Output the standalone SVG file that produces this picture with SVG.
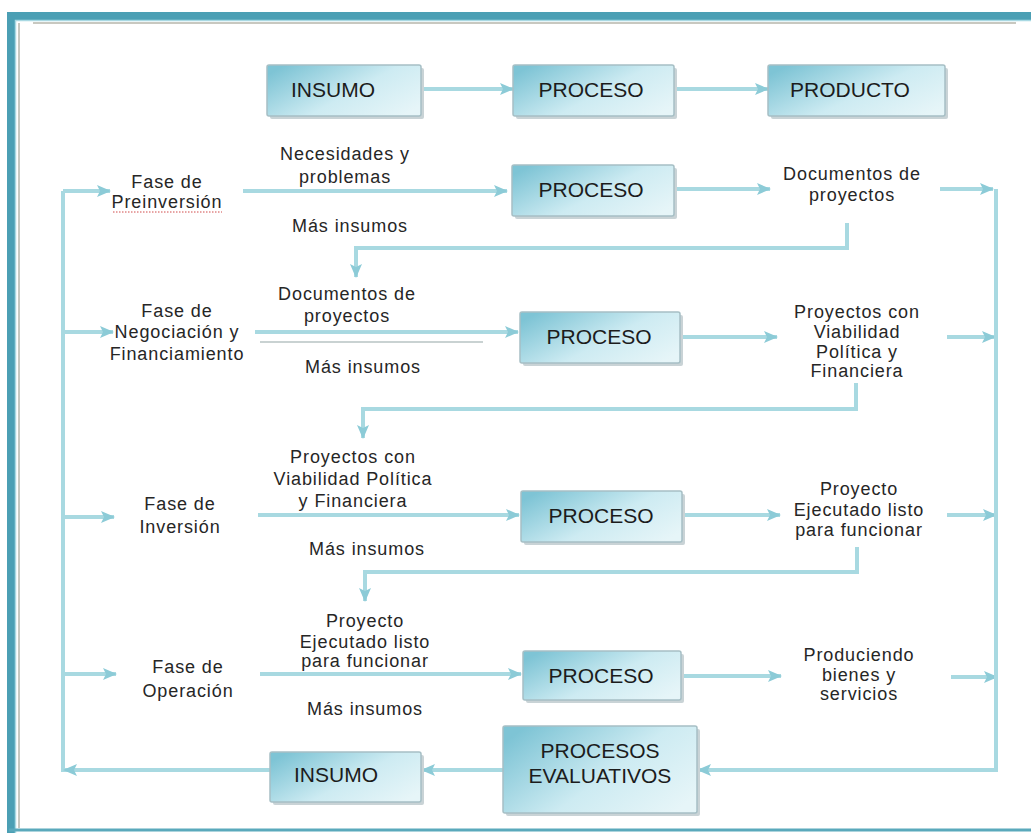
<svg xmlns="http://www.w3.org/2000/svg" width="1031" height="833" viewBox="0 0 1031 833">
<defs>
<linearGradient id="boxg" x1="0" y1="0.2" x2="1" y2="0.8">
<stop offset="0" stop-color="#7ec4d5"/>
<stop offset="0.55" stop-color="#cdebf2"/>
<stop offset="1" stop-color="#e6f5f8"/>
</linearGradient>
<marker id="ah" markerUnits="userSpaceOnUse" markerWidth="14" markerHeight="12" refX="13" refY="6" orient="auto">
<path d="M0,0 L14,6 L0,12 L3,6 z" fill="#8ccbd7"/>
</marker>
<style>
.box{fill:url(#boxg);stroke:#a6bfc5;stroke-width:1.5}
.sh{fill:#c9d3d6}
.bt{font-family:"Liberation Sans",Arial,sans-serif;font-size:21px;fill:#1c1c1c;text-anchor:middle}
.lt{font-family:"Liberation Sans",Arial,sans-serif;font-size:18px;fill:#262626;text-anchor:middle;letter-spacing:0.9px}
.c{fill:none;stroke:#a8d9e1;stroke-width:4;stroke-linejoin:round}
.ca{fill:none;stroke:#a8d9e1;stroke-width:4;marker-end:url(#ah)}
</style>
</defs>
<rect width="1031" height="833" fill="#ffffff"/>
<g id="frame">
<path d="M11.5,833 V16.5 H1040" fill="none" stroke="#4b9fb4" stroke-width="9"/>
<path d="M15.5,833 V20.5 H1040" fill="none" stroke="#a9d9e3" stroke-width="1.5"/>
<line x1="9" y1="830" x2="1031" y2="830" stroke="#5aa9bc" stroke-width="3"/>
<line x1="19" y1="23" x2="19" y2="828" stroke="#c8c8c0" stroke-width="2"/>
<line x1="33" y1="23" x2="1016" y2="23" stroke="#c8c8c0" stroke-width="2"/>
</g>
<g id="connectors">
<line class="ca" x1="421" y1="89" x2="513" y2="89"/>
<line class="ca" x1="674" y1="89" x2="768" y2="89"/>
<line class="c" x1="63" y1="191" x2="63" y2="772"/>
<line class="ca" x1="63" y1="191" x2="110" y2="191"/>
<line class="ca" x1="63" y1="332" x2="113" y2="332"/>
<line class="ca" x1="63" y1="517" x2="114" y2="517"/>
<line class="ca" x1="63" y1="674" x2="116" y2="674"/>
<line class="ca" x1="243" y1="191" x2="507" y2="191"/>
<line class="ca" x1="674" y1="189" x2="770" y2="189"/>
<line class="ca" x1="940" y1="189" x2="993" y2="189"/>
<path class="ca" d="M847,223 V248 H356 V277"/>
<line class="ca" x1="255" y1="332" x2="518" y2="332"/>
<line x1="260" y1="342" x2="483" y2="342" stroke="#c9d2d2" stroke-width="2"/>
<line class="ca" x1="680" y1="337" x2="777" y2="337"/>
<line class="ca" x1="947" y1="337" x2="995" y2="337"/>
<path class="ca" d="M856,383 V409 H363 V438"/>
<line class="ca" x1="258" y1="515" x2="519" y2="515"/>
<line class="ca" x1="682" y1="515" x2="780" y2="515"/>
<line class="ca" x1="947" y1="515" x2="996" y2="515"/>
<path class="ca" d="M857,547 V572 H365 V601"/>
<line class="ca" x1="260" y1="674" x2="521" y2="674"/>
<line class="ca" x1="681" y1="676" x2="781" y2="676"/>
<line class="ca" x1="951" y1="677" x2="997" y2="677"/>
<path class="ca" d="M996,189 V770 H698"/>
<line class="ca" x1="503" y1="770" x2="422" y2="770"/>
<line class="ca" x1="270" y1="770" x2="64" y2="770"/>
</g>
<g id="n-insumo-top">
<rect class="sh" x="270" y="68" width="154" height="51" rx="2"/>
<rect class="box" x="267" y="65" width="154" height="51" rx="2"/>
<text class="bt" x="333" y="97">INSUMO</text>
</g>
<g id="n-proceso-top">
<rect class="sh" x="516" y="68" width="161" height="51" rx="2"/>
<rect class="box" x="513" y="65" width="161" height="51" rx="2"/>
<text class="bt" x="591" y="97">PROCESO</text>
</g>
<g id="n-producto">
<rect class="sh" x="771" y="68" width="177" height="51" rx="2"/>
<rect class="box" x="768" y="65" width="177" height="51" rx="2"/>
<text class="bt" x="850" y="97">PRODUCTO</text>
</g>
<g id="n-fase-preinversion">
<text class="lt" x="167" y="188">Fase de</text>
<text class="lt" x="167" y="208">Preinversión</text>
<line x1="113" y1="212" x2="222" y2="212" stroke="#d04a4a" stroke-width="1" stroke-dasharray="1.5 1.5"/>
</g>
<g id="l-necesidades">
<text class="lt" x="345" y="160">Necesidades y</text>
<text class="lt" x="345" y="183">problemas</text>
</g>
<g id="l-mas1"><text class="lt" x="350" y="232">Más insumos</text></g>
<g id="n-proceso-1">
<rect class="sh" x="515" y="168" width="162" height="51" rx="2"/>
<rect class="box" x="512" y="165" width="162" height="51" rx="2"/>
<text class="bt" x="591" y="197">PROCESO</text>
</g>
<g id="n-documentos">
<text class="lt" x="852" y="180">Documentos de</text>
<text class="lt" x="852" y="201">proyectos</text>
</g>
<g id="n-fase-negociacion">
<text class="lt" x="177" y="317">Fase de</text>
<text class="lt" x="177" y="338">Negociación y</text>
<text class="lt" x="177" y="360">Financiamiento</text>
</g>
<g id="l-documentos2">
<text class="lt" x="347" y="300">Documentos de</text>
<text class="lt" x="347" y="322">proyectos</text>
</g>
<g id="l-mas2"><text class="lt" x="363" y="373">Más insumos</text></g>
<g id="n-proceso-2">
<rect class="sh" x="523" y="315" width="160" height="51" rx="2"/>
<rect class="box" x="520" y="312" width="160" height="51" rx="2"/>
<text class="bt" x="599" y="344">PROCESO</text>
</g>
<g id="n-viabilidad">
<text class="lt" x="857" y="318">Proyectos con</text>
<text class="lt" x="857" y="338">Viabilidad</text>
<text class="lt" x="857" y="358">Política y</text>
<text class="lt" x="857" y="377">Financiera</text>
</g>
<g id="n-fase-inversion">
<text class="lt" x="180" y="510">Fase de</text>
<text class="lt" x="180" y="533">Inversión</text>
</g>
<g id="l-viabilidad">
<text class="lt" x="353" y="463">Proyectos con</text>
<text class="lt" x="353" y="485" letter-spacing="0.2">Viabilidad Política</text>
<text class="lt" x="353" y="507">y Financiera</text>
</g>
<g id="l-mas3"><text class="lt" x="367" y="555">Más insumos</text></g>
<g id="n-proceso-3">
<rect class="sh" x="524" y="494" width="161" height="51" rx="2"/>
<rect class="box" x="521" y="491" width="161" height="51" rx="2"/>
<text class="bt" x="601" y="523">PROCESO</text>
</g>
<g id="n-ejecutado">
<text class="lt" x="859" y="495">Proyecto</text>
<text class="lt" x="859" y="516">Ejecutado listo</text>
<text class="lt" x="859" y="536">para funcionar</text>
</g>
<g id="n-fase-operacion">
<text class="lt" x="188" y="673">Fase de</text>
<text class="lt" x="188" y="697">Operación</text>
</g>
<g id="l-ejecutado">
<text class="lt" x="365" y="627">Proyecto</text>
<text class="lt" x="365" y="648">Ejecutado listo</text>
<text class="lt" x="365" y="667">para funcionar</text>
</g>
<g id="l-mas4"><text class="lt" x="365" y="715">Más insumos</text></g>
<g id="n-proceso-4">
<rect class="sh" x="526" y="654" width="158" height="49" rx="2"/>
<rect class="box" x="523" y="651" width="158" height="49" rx="2"/>
<text class="bt" x="601" y="683">PROCESO</text>
</g>
<g id="n-produciendo">
<text class="lt" x="859" y="661">Produciendo</text>
<text class="lt" x="859" y="681">bienes y</text>
<text class="lt" x="859" y="700">servicios</text>
</g>
<g id="n-procesos-evaluativos">
<rect class="sh" x="506" y="729" width="194" height="87" rx="2"/>
<rect class="box" x="503" y="726" width="194" height="87" rx="2"/>
<text class="bt" x="600" y="758">PROCESOS</text>
<text class="bt" x="600" y="783">EVALUATIVOS</text>
</g>
<g id="n-insumo-bottom">
<rect class="sh" x="273" y="755" width="151" height="50" rx="2"/>
<rect class="box" x="270" y="752" width="151" height="50" rx="2"/>
<text class="bt" x="336" y="782">INSUMO</text>
</g>
</svg>
